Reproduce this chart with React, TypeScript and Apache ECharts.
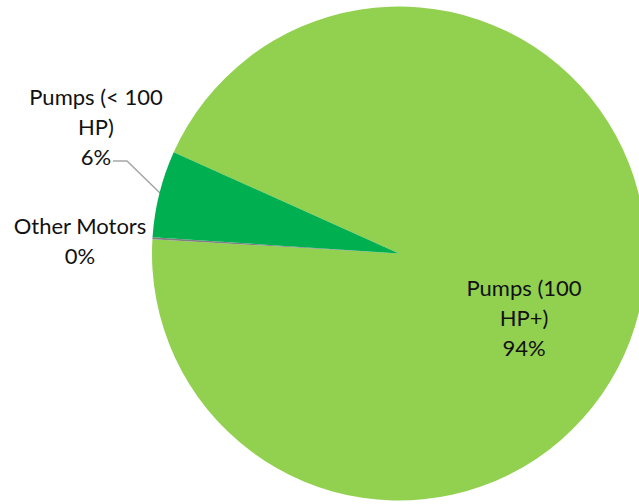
import React, { useEffect, useRef } from "react";
import * as echarts from "echarts";

const categories = ["Pumps (100 HP+)", "Other Motors", "Pumps (< 100 HP)"];
const labelTexts = ["Pumps (100\nHP+)", "Other Motors", "Pumps (< 100\nHP)"];
const values = [94.2, 0.12, 5.68];
const colors = ["#92D050", "#7F7F7F", "#00B050"];

// label centres (layout only)
const labelPos: [number, number][] = [
  [524, 317],
  [80, 240],
  [96, 126],
];

export default function App() {
  const ref = useRef<HTMLDivElement>(null);
  useEffect(() => {
    if (!ref.current) return;
    const chart = echarts.init(ref.current, null, { renderer: "svg" });
    chart.setOption({
      animation: false,
      backgroundColor: "#ffffff",
      series: [
        {
          type: "pie",
          center: [399, 253.5],
          radius: 247,
          startAngle: 155.8,
          clockwise: true,
          avoidLabelOverlap: false,
          emphasis: { disabled: true },
          itemStyle: { borderWidth: 0 },
          label: {
            show: true,
            position: "outside",
            fontFamily: "Lato, 'Open Sans', sans-serif",
            fontSize: 22,
            lineHeight: 30,
            color: "#111111",
            align: "center",
            formatter: (p: any) =>
              labelTexts[p.dataIndex] + "\n" + Math.round(p.percent) + "%",
          },
          labelLine: {
            show: true,
            lineStyle: { color: "#A6A6A6", width: 1.5 },
          },
          labelLayout: (p: any) => {
            const [x, y] = labelPos[p.dataIndex];
            const res: any = { x, y, align: "center", verticalAlign: "middle" };
            if (p.dataIndex === 2) {
              res.labelLinePoints = [
                [160, 193],
                [127, 161],
                [113, 161],
              ];
            }
            return res;
          },
          data: categories.map((name, i) => ({
            name,
            value: values[i],
            itemStyle: { color: colors[i] },
            labelLine: { show: i === 2 },
          })),
        },
      ],
    });
    return () => chart.dispose();
  }, []);
  return (
    <div
      ref={ref}
      style={{ position: "fixed", left: 0, top: 0, width: 639, height: 504 }}
    />
  );
}
